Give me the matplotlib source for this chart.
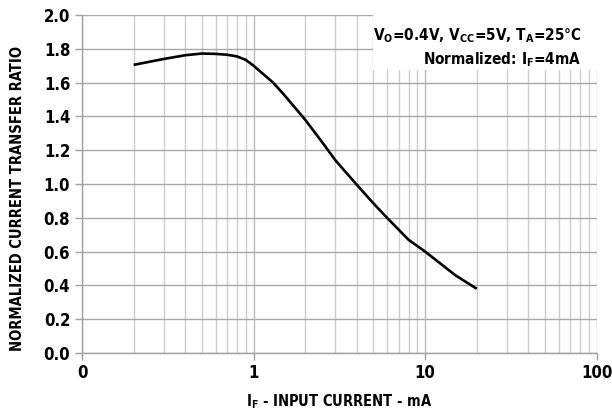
import matplotlib
matplotlib.use("Agg")
import matplotlib.pyplot as plt
from matplotlib import font_manager
from matplotlib.patches import Rectangle
from matplotlib.ticker import FixedLocator, NullFormatter

# --- data ---
i_f = [0.2, 0.3, 0.4, 0.5, 0.6, 0.7, 0.8, 0.9, 1.0, 1.3, 1.5, 2, 2.5, 3, 4, 5, 6, 8, 10, 15, 20]
ctr = [1.705, 1.74, 1.762, 1.772, 1.77, 1.765, 1.755, 1.735, 1.70, 1.60, 1.53, 1.38, 1.25, 1.14, 0.995, 0.885, 0.80, 0.67, 0.60, 0.46, 0.38]

x_ticks = [0.1, 1, 10, 100]
x_tick_labels = ['0', '1', '10', '100']
y_ticks = [0.0, 0.2, 0.4, 0.6, 0.8, 1.0, 1.2, 1.4, 1.6, 1.8, 2.0]

# the original uses a bold condensed face; take a narrow one if there is any
fonts = font_manager.fontManager.ttflist
narrow = [f for f in fonts if f.weight in ('bold', 700) and
          (f.stretch in ('condensed', 'semi-condensed', 'extra-condensed', 'ultra-condensed')
           or 'Narrow' in f.name or 'Condensed' in f.name)]
if narrow:
    family, stretch = narrow[0].name, narrow[0].stretch
else:
    family, stretch = 'Roboto', 'normal'

plt.rcParams['font.family'] = [family, 'DejaVu Sans']
plt.rcParams['font.stretch'] = stretch
plt.rcParams['font.weight'] = 'bold'
plt.rcParams['axes.labelweight'] = 'bold'
plt.rcParams['mathtext.default'] = 'regular'

fig = plt.figure(figsize=(6.12, 4.17), dpi=100)
ax = fig.add_axes([0.134, 0.1535, 0.841, 0.8105])

ax.set_xscale('log')
ax.set_xlim(0.1, 100)
ax.set_ylim(0, 2.0)

ax.xaxis.set_major_locator(FixedLocator(x_ticks))
ax.xaxis.set_minor_locator(FixedLocator([m * d for d in (0.1, 1, 10) for m in range(2, 10)]))
ax.xaxis.set_minor_formatter(NullFormatter())
ax.set_xticklabels(x_tick_labels)
ax.set_yticks(y_ticks)
ax.set_yticklabels([f'{v:.1f}' for v in y_ticks])

# grid
ax.grid(True, which='major', axis='y', color='#a8a8a8', lw=1.0)
ax.grid(True, which='major', axis='x', color='#bcbcbc', lw=1.0)
ax.grid(True, which='minor', axis='x', color='#cdcdcd', lw=1.0)
ax.set_axisbelow(True)

for side in ('top', 'right'):
    ax.spines[side].set_visible(False)
for side in ('left', 'bottom'):
    ax.spines[side].set_color('#a0a0a0')
    ax.spines[side].set_linewidth(1.0)

ax.tick_params(axis='both', which='major', direction='out', length=5, width=1.0,
               color='#a0a0a0', labelsize=12)
ax.tick_params(axis='x', which='minor', length=0)
ax.tick_params(axis='x', pad=3)

ax.plot(i_f, ctr, color='black', lw=1.9, zorder=4, solid_capstyle='butt')

# condition box (white background over the grid)
ax.add_patch(Rectangle((0.565, 0.838), 0.435, 0.162, transform=ax.transAxes,
                       facecolor='white', edgecolor='none', zorder=3))
ax.text(0.97, 0.968, 'V$_O$=0.4V, V$_{CC}$=5V, T$_A$=25°C',
        transform=ax.transAxes, ha='right', va='top', fontsize=11, zorder=5)
ax.text(0.97, 0.897, 'Normalized: I$_F$=4mA',
        transform=ax.transAxes, ha='right', va='top', fontsize=11, zorder=5)

ax.set_xlabel('I$_F$ - INPUT CURRENT - mA', fontsize=10.5, labelpad=7)
ax.set_ylabel('NORMALIZED CURRENT TRANSFER RATIO', fontsize=10.5)
ax.yaxis.set_label_coords(-0.110, 0.456)

fig.savefig('out.png', dpi=100)
